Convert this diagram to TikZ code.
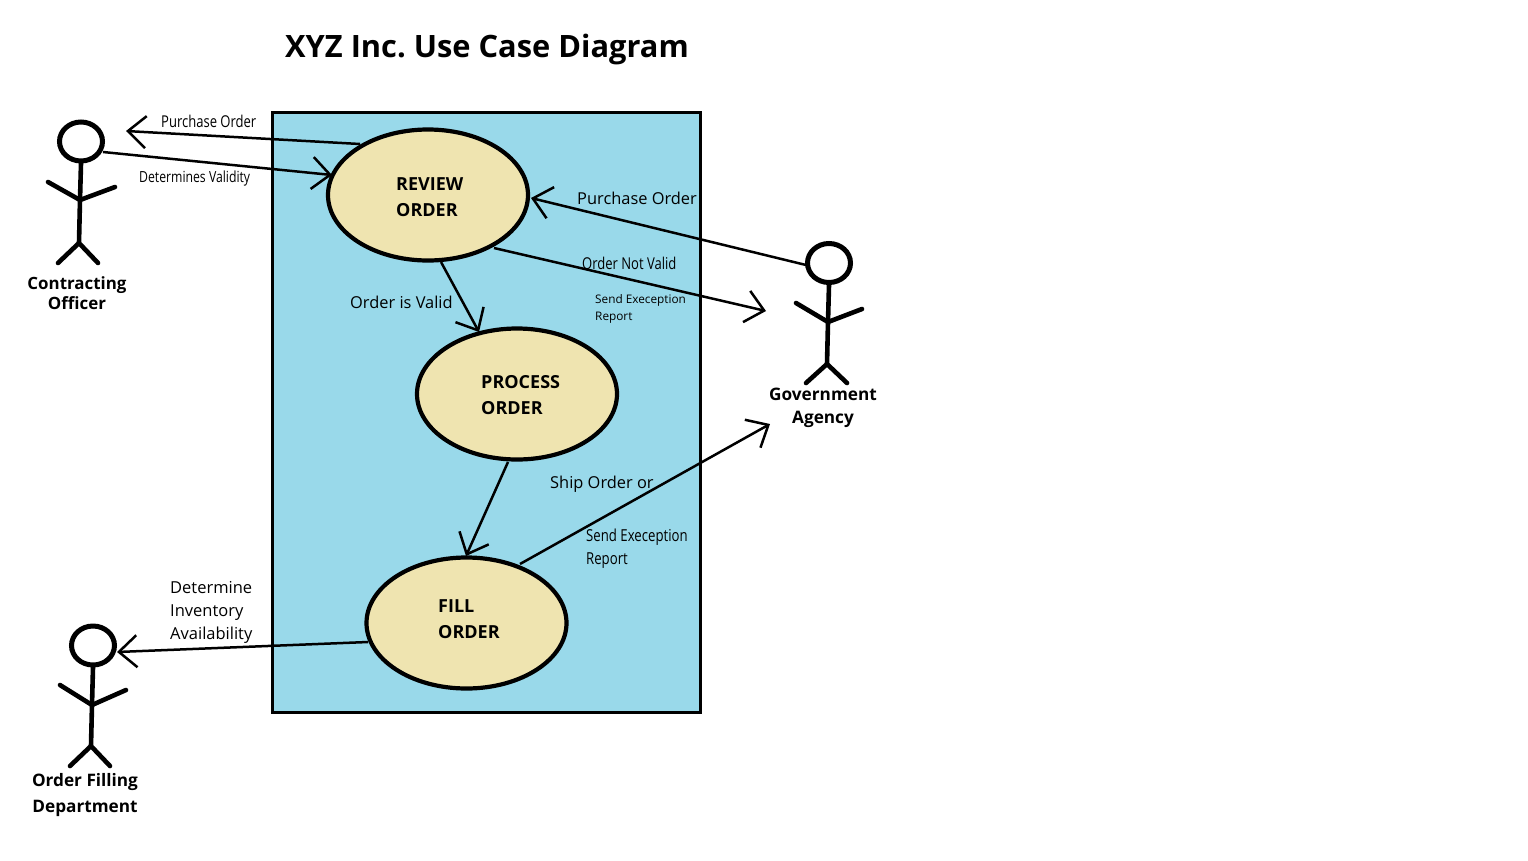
\documentclass[tikz,border=0pt]{standalone}
\usepackage{fontspec}
\setmainfont{Open Sans}
\usetikzlibrary{arrows.meta,shapes.geometric}
\definecolor{sysblue}{RGB}{153,217,234}
\definecolor{usecase}{RGB}{239,228,176}
\tikzset{
  x=1pt,y=-1pt,
  usecasebox/.style={ellipse,draw=black,line width=4.2pt,fill=usecase,minimum width=200pt,minimum height=131pt,inner sep=0pt},
  head/.style={ellipse,draw=black,line width=5pt,fill=white,inner sep=0pt,minimum width=43pt,minimum height=39pt},
  limb/.style={line width=4.6pt,line cap=round,line join=round},
  flow/.style={line width=2.5pt,-{Straight Barb[length=18pt,width=32pt,line width=2.5pt]}},
  ptext/.style={font=\fontsize{16.4}{18}\selectfont,anchor=west,inner sep=0pt},
  ntext/.style={font=\fontsize{16.3}{18}\selectfont,anchor=west,inner sep=0pt,xscale=.8},
  stext/.style={font=\fontsize{12}{14}\selectfont,anchor=west,inner sep=0pt},
  uctext/.style={font=\fontsize{18}{26}\bfseries,align=left,anchor=west,inner sep=0pt},
  actortext/.style={font=\fontsize{17.2}{23}\bfseries,align=center,inner sep=0pt},
}
\begin{document}
\begin{tikzpicture}
\useasboundingbox (0,0) rectangle (1528,860);
\fill[white] (0,0) rectangle (1528,860);
\node[font=\fontsize{30.8}{36}\bfseries,inner sep=0pt] (title) at (487,49.5) {XYZ Inc.\ Use Case Diagram};
\node[draw=black,line width=2.8pt,fill=sysblue,minimum width=428pt,minimum height=600pt,inner sep=0pt] (system) at (486.5,412.5) {};

\node[usecasebox] (review) at (428,195) {};
\node[usecasebox] (process) at (517,394) {};
\node[usecasebox] (fill) at (466.5,623) {};
\node[uctext] (reviewt) at (396,197) {REVIEW\\ORDER};
\node[uctext] (processt) at (481,395) {PROCESS\\ORDER};
\node[uctext] (fillt) at (438,619) {FILL\\ORDER};

% actors
\node[head] (co) at (81,141.5) {};
\coordinate (cohip) at (80,200);
\draw[limb] (co.south) -- (cohip) -- (79,243) -- (58,263) (79,243) -- (98,263);
\draw[limb] (48,182) -- (cohip) -- (115,187);
\node[actortext,font=\fontsize{16.9}{20}\bfseries] (cot) at (77,293.5) {Contracting\\Officer};

\node[head] (ga) at (829,263) {};
\coordinate (gahip) at (828,322);
\draw[limb] (ga.south) -- (gahip) -- (827,364) -- (806,383) (827,364) -- (847,383);
\draw[limb] (796,303) -- (gahip) -- (862,309);
\node[actortext] (gat) at (823,408) {Government\\Agency};

\node[head] (of) at (93,645.5) {};
\coordinate (ofhip) at (92,705);
\draw[limb] (of.south) -- (ofhip) -- (91,746) -- (70,766) (91,746) -- (110,766);
\draw[limb] (60,685) -- (ofhip) -- (126,690);
\node[actortext,font=\fontsize{17.2}{26}\bfseries] (oft) at (85,795) {Order Filling\\Department};

% connectors
\coordinate (a1s) at (360,144); \coordinate (a1e) at (126,131);
\coordinate (a2s) at (103,152); \coordinate (a2e) at (332,175);
\coordinate (a3s) at (806,265); \coordinate (a3e) at (531,198);
\coordinate (a4s) at (494,248); \coordinate (a4e) at (766,311);
\coordinate (a5s) at (441,262); \coordinate (a5e) at (479,332);
\coordinate (a6s) at (508,462); \coordinate (a6e) at (466,556);
\coordinate (a7s) at (520,564); \coordinate (a7e) at (770,424);
\coordinate (a8s) at (368,642); \coordinate (a8e) at (117,652);
\foreach \i in {1,...,8} {\draw[flow] (a\i s) -- (a\i e);}

% labels
\node[ntext] (l1) at (161,121) {Purchase Order};
\node[ntext,font=\fontsize{15.3}{18}\selectfont] (l2) at (139,179) {Determines Validity};
\node[ptext] (l3) at (577,198) {Purchase Order};
\node[ntext] (l4) at (582,263) {Order Not Valid};
\node[stext,align=left,font=\fontsize{11.8}{17}\selectfont] (l5) at (595,308.5) {Send Exeception\\Report};
\node[ptext] (l6) at (350,302) {Order is Valid};
\node[ptext] (l7) at (550,484) {Ship Order or};
\node[ntext,align=left,font=\fontsize{16.5}{23}\selectfont] (l8) at (586,549) {Send Exeception\\Report};
\node[ptext,align=left,font=\fontsize{16.5}{23}\selectfont] (l9) at (170,612) {Determine\\Inventory\\Availability};
\end{tikzpicture}
\end{document}
